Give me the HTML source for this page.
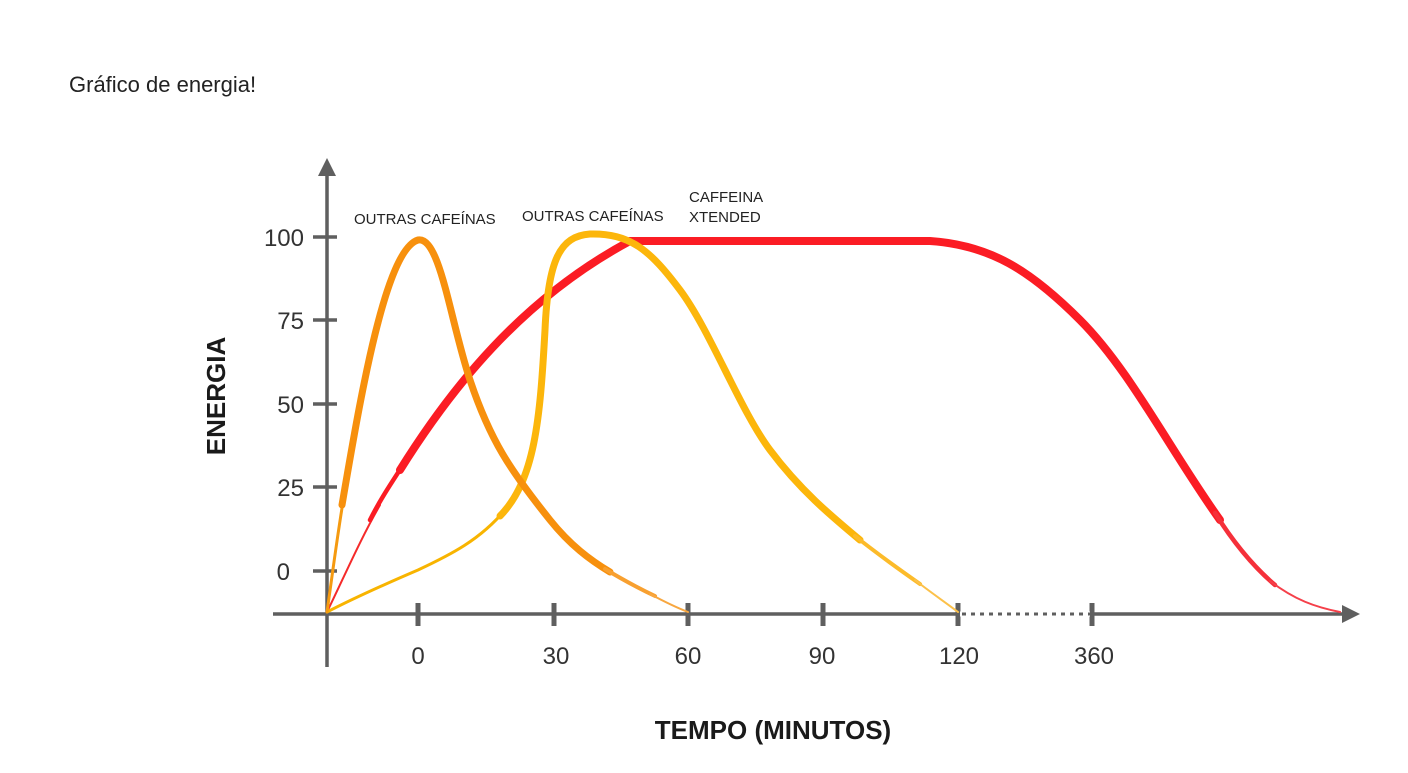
<!DOCTYPE html>
<html><head><meta charset="utf-8"><style>
body{margin:0;background:#fff;width:1408px;height:768px;overflow:hidden;font-family:"Liberation Sans",sans-serif}
</style></head><body>
<svg width="1408" height="768" viewBox="0 0 1408 768" xmlns="http://www.w3.org/2000/svg">
<text x="69" y="92" font-size="22" fill="#222" font-family="Liberation Sans, sans-serif">Gráfico de energia!</text>
<g stroke="#5f5f5f" stroke-width="3.5" fill="none">
<line x1="327" y1="172" x2="327" y2="667"/>
<line x1="273" y1="614" x2="1345" y2="614"/>
<line x1="313" y1="237" x2="337" y2="237"/>
<line x1="313" y1="320" x2="337" y2="320"/>
<line x1="313" y1="404" x2="337" y2="404"/>
<line x1="313" y1="487" x2="337" y2="487"/>
<line x1="313" y1="571" x2="337" y2="571"/>
<g stroke-width="5">
<line x1="418" y1="603" x2="418" y2="626"/>
<line x1="554" y1="603" x2="554" y2="626"/>
<line x1="688" y1="603" x2="688" y2="626"/>
<line x1="823" y1="603" x2="823" y2="626"/>
<line x1="958" y1="603" x2="958" y2="626"/>
<line x1="1092" y1="603" x2="1092" y2="626"/>
</g>
</g>
<line x1="960" y1="614" x2="1090" y2="614" stroke="#fff" stroke-width="5"/>
<line x1="962" y1="614" x2="1090" y2="614" stroke="#5f5f5f" stroke-width="3" stroke-dasharray="4 5"/>
<polygon points="327,158 318,176 336,176" fill="#5f5f5f"/>
<polygon points="1360,614 1342,605 1342,623" fill="#5f5f5f"/>
<g font-family="Liberation Sans, sans-serif" font-size="24" fill="#333" text-anchor="end">
<text x="304" y="246">100</text><text x="304" y="329">75</text><text x="304" y="413">50</text><text x="304" y="496">25</text><text x="290" y="580">0</text>
</g>
<g font-family="Liberation Sans, sans-serif" font-size="24" fill="#333" text-anchor="middle">
<text x="418" y="664">0</text><text x="556" y="664">30</text><text x="688" y="664">60</text><text x="822" y="664">90</text><text x="959" y="664">120</text><text x="1094" y="664">360</text>
</g>
<text x="773" y="739" font-size="26" font-weight="bold" fill="#1a1a1a" text-anchor="middle" font-family="Liberation Sans, sans-serif">TEMPO (MINUTOS)</text>
<text transform="translate(225,396) rotate(-90)" font-size="26" font-weight="bold" fill="#1a1a1a" text-anchor="middle" font-family="Liberation Sans, sans-serif">ENERGIA</text>
<g font-family="Liberation Sans, sans-serif" font-size="15" fill="#222">
<text x="354" y="224">OUTRAS CAFEÍNAS</text>
<text x="522" y="221">OUTRAS CAFEÍNAS</text>
<text x="689" y="202">CAFFEINA</text>
<text x="689" y="222">XTENDED</text>
</g>
<g fill="none" stroke-linecap="round">
<!-- red -->
<path d="M327,612 C345,575 360,540 380,505" stroke="#f52a2a" stroke-width="2"/>
<path d="M370,520 C380,500 390,485 405,462" stroke="#fb1c24" stroke-width="4.5"/>
<path d="M400,470 C450,390 520,300 630,241 L930,241 C990,245 1030,270 1080,320 C1130,370 1170,450 1220,520" stroke="#fb1c24" stroke-width="8"/>
<path d="M1215,513 C1235,545 1255,568 1275,585" stroke="#f5303a" stroke-width="4.5"/>
<path d="M1270,581 C1295,600 1315,607 1340,612" stroke="#f5404a" stroke-width="2"/>
<!-- yellow -->
<path d="M327,612 C360,595 390,582 418,570 C450,555 480,540 505,510" stroke="#f8b400" stroke-width="3"/>
<path d="M500,516 C535,480 540,420 545,330 C548,260 560,236 590,234 C630,233 650,250 680,290 C710,330 740,410 770,450 C800,490 830,515 860,540" stroke="#fcb60b" stroke-width="7"/>
<path d="M855,536 C880,556 900,570 920,584" stroke="#fcbb2a" stroke-width="4"/>
<path d="M915,580 C930,592 945,602 958,612" stroke="#fcc14a" stroke-width="2"/>
<!-- orange -->
<path d="M327,612 C333,570 338,530 345,490" stroke="#f59a10" stroke-width="3"/>
<path d="M342,505 C360,400 385,250 418,240 C440,236 450,320 470,380 C490,440 510,470 550,520 C570,545 590,560 610,572" stroke="#f7900d" stroke-width="7"/>
<path d="M605,569 C625,581 640,589 655,596" stroke="#f8a030" stroke-width="4"/>
<path d="M650,594 C665,602 675,607 688,612" stroke="#f8a740" stroke-width="2"/>
</g>
</svg>
</body></html>
